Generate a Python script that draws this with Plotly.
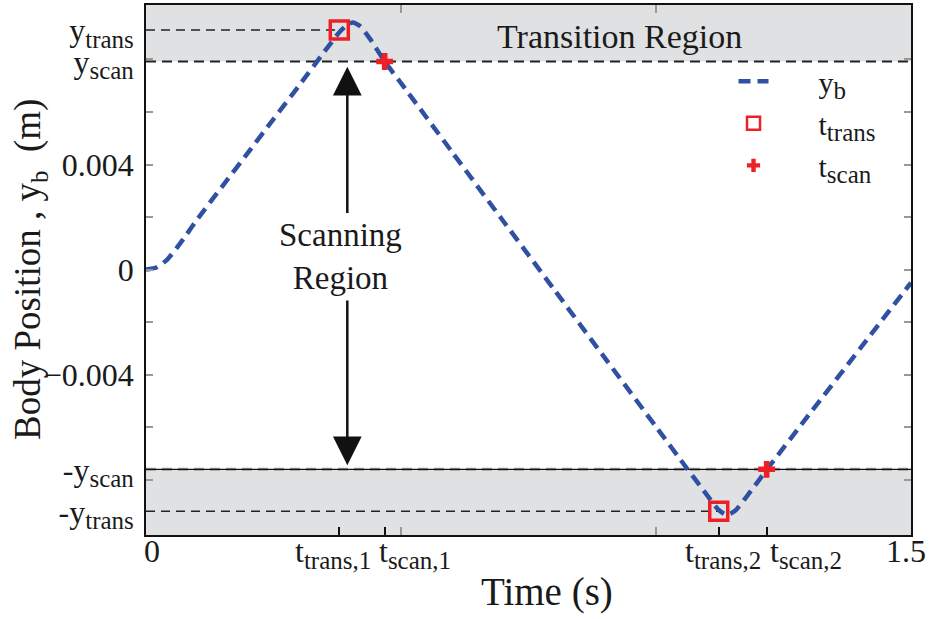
import plotly.graph_objects as go

# ---------------- data ----------------
t_curve = [0.000, 0.020, 0.040, 0.060, 0.080, 0.100, 0.150, 0.200, 0.250, 0.300,
           0.350, 0.380, 0.395, 0.406, 0.420, 0.440, 0.468, 0.500, 0.600, 0.700,
           0.800, 0.900, 1.000, 1.062, 1.100, 1.123, 1.139, 1.155, 1.180, 1.217,
           1.300, 1.400, 1.500]
y_curve = [0.00000, 0.00008, 0.00035, 0.00082, 0.00135, 0.00190, 0.00318, 0.00445, 0.00573, 0.00700,
           0.00830, 0.00905, 0.00932, 0.00940, 0.00926, 0.00876, 0.00792, 0.00710, 0.00448, 0.00186,
           -0.00075, -0.00337, -0.00598, -0.00760, -0.00858, -0.00915, -0.00934, -0.00918, -0.00858, -0.00762,
           -0.00552, -0.00301, -0.00050]

t_trans = [0.379, 1.123]
y_trans_pts = [0.00912, -0.00920]
t_scan = [0.468, 1.217]
y_scan_pts = [0.00792, -0.00760]

Y_TRANS = 0.00912
Y_SCAN = 0.00792
NEG_Y_SCAN = -0.00760
NEG_Y_TRANS = -0.00920

y_range = [-0.0101, 0.01007]
x_range = [0, 1.5]

SUB = "<span style='font-size:25px'>{}</span>"
ytick_vals = [Y_TRANS, Y_SCAN, 0.004, 0.0, -0.004, NEG_Y_SCAN, NEG_Y_TRANS]
ytick_text = ["y<sub>" + SUB.format("trans") + "</sub>", "y<sub>" + SUB.format("scan") + "</sub>",
              "0.004", "0", "\u22120.004",
              "-y<sub>" + SUB.format("scan") + "</sub>", "-y<sub>" + SUB.format("trans") + "</sub>"]
y_minor = [-0.008, -0.006, -0.004, -0.002, 0.0, 0.002, 0.004, 0.006, 0.008]

xtick_vals = [0.0, t_trans[0], t_scan[0], t_trans[1], t_scan[1], 1.5]
xtick_text = ["0", "t<sub>" + SUB.format("trans,1") + "</sub>", "t<sub>" + SUB.format("scan,1") + "</sub>",
              "t<sub>" + SUB.format("trans,2") + "</sub>", "t<sub>" + SUB.format("scan,2") + "</sub>", "1.5"]
xtick_shift = [6, -6, 30, 4, 39, -5]
x_minor = [0.5, 1.0]

arrow_x = 0.3947
arrow_up = [0.0021, 0.00772]
arrow_dn = [-0.00112, -0.00745]

FONT = "Liberation Serif"
BLUE = "#3050A2"
RED = "#EE2026"
SHADE = "#E0E1E3"
TXT = "#1a1a1a"
PAD = "&nbsp;" * 6

fig = go.Figure()

# dashed reference lines
fig.add_trace(go.Scatter(x=[x_range[0], t_trans[0]], y=[Y_TRANS, Y_TRANS], mode="lines",
                         line=dict(color="#222", width=1.5, dash="9px,6px"), showlegend=False, hoverinfo="skip"))
fig.add_trace(go.Scatter(x=x_range, y=[Y_SCAN, Y_SCAN], mode="lines",
                         line=dict(color="#222", width=1.8, dash="10px,6px"), showlegend=False, hoverinfo="skip"))
fig.add_trace(go.Scatter(x=x_range, y=[NEG_Y_SCAN, NEG_Y_SCAN], mode="lines",
                         line=dict(color="#999", width=3, dash="10px,6px"), showlegend=False, hoverinfo="skip"))
fig.add_trace(go.Scatter(x=x_range, y=[NEG_Y_SCAN, NEG_Y_SCAN], mode="lines",
                         line=dict(color="#111", width=1.2), showlegend=False, hoverinfo="skip"))
fig.add_trace(go.Scatter(x=[x_range[0], t_trans[1]], y=[NEG_Y_TRANS, NEG_Y_TRANS], mode="lines",
                         line=dict(color="#222", width=1.5, dash="9px,6px"), showlegend=False, hoverinfo="skip"))

# body position
fig.add_trace(go.Scatter(x=t_curve, y=y_curve, mode="lines", name=PAD + "y<sub>" + SUB.format("b") + "</sub>",
                         line=dict(color=BLUE, width=4.5, dash="12px,7px", shape="spline", smoothing=0.6)))
fig.add_trace(go.Scatter(x=t_trans, y=y_trans_pts, mode="markers", showlegend=False,
                         marker=dict(symbol="square-open", size=18, color=RED, line=dict(width=3.5, color=RED))))
fig.add_trace(go.Scatter(x=t_scan, y=y_scan_pts, mode="markers", showlegend=False,
                         marker=dict(symbol="cross", size=14, color=RED, line=dict(width=0))))
# legend-only entries (smaller symbols, like the reference legend)
fig.add_trace(go.Scatter(x=[None], y=[None], mode="markers", name=PAD + "t<sub>" + SUB.format("trans") + "</sub>",
                         marker=dict(symbol="square-open", size=13, color=RED, line=dict(width=2.5, color=RED))))
fig.add_trace(go.Scatter(x=[None], y=[None], mode="markers", name=PAD + "t<sub>" + SUB.format("scan") + "</sub>",
                         marker=dict(symbol="cross", size=11, color=RED, line=dict(width=0))))

# helper traces for the mirrored axes
fig.add_trace(go.Scatter(x=x_range, y=y_range, mode="markers", marker=dict(opacity=0),
                         xaxis="x2", yaxis="y2", showlegend=False, hoverinfo="skip"))

# shaded regions
fig.add_shape(type="rect", xref="paper", x0=0, x1=1, yref="y", y0=Y_SCAN, y1=y_range[1],
              fillcolor=SHADE, line=dict(width=0), layer="below")
fig.add_shape(type="rect", xref="paper", x0=0, x1=1, yref="y", y0=y_range[0], y1=NEG_Y_SCAN,
              fillcolor=SHADE, line=dict(width=0), layer="below")

# annotations
fig.add_annotation(x=0.929, y=0.00889, text="Transition Region", showarrow=False,
                   font=dict(family=FONT, size=34, color=TXT))
fig.add_annotation(x=0.381, y=0.00051, text="Scanning<br>Region", showarrow=False,
                   font=dict(family=FONT, size=33, color=TXT))
fig.add_annotation(x=arrow_x, y=arrow_up[1], ax=arrow_x, ay=arrow_up[0], xref="x", yref="y",
                   axref="x", ayref="y", text="", showarrow=True, arrowhead=2, arrowsize=2.3,
                   arrowwidth=2.5, arrowcolor="#111")
fig.add_annotation(x=arrow_x, y=arrow_dn[1], ax=arrow_x, ay=arrow_dn[0], xref="x", yref="y",
                   axref="x", ayref="y", text="", showarrow=True, arrowhead=2, arrowsize=2.3,
                   arrowwidth=2.5, arrowcolor="#111")

for v, txt, sh in zip(xtick_vals, xtick_text, xtick_shift):
    fig.add_annotation(x=v, y=0, xref="x", yref="paper", yanchor="top", text=txt,
                       showarrow=False, xshift=sh, yshift=4,
                       font=dict(family=FONT, size=32, color=TXT))

fig.add_annotation(x=0.5, y=0, xref="paper", yref="paper", yanchor="top", text="Time (s)",
                   showarrow=False, xshift=18, yshift=-33, font=dict(family=FONT, size=39, color=TXT))
fig.add_annotation(x=0, y=0.5, xref="paper", yref="paper", xanchor="center", yanchor="middle",
                   text="Body Position , y<sub>" + SUB.format("b") + "</sub>  (m)", textangle=-90,
                   showarrow=False, xshift=-116, font=dict(family=FONT, size=37, color=TXT))

fig.update_layout(
    width=929, height=619,
    margin=dict(l=146, r=18, t=3, b=84),
    paper_bgcolor="white", plot_bgcolor="white",
    font=dict(family=FONT, size=30, color=TXT),
    showlegend=True,
    legend=dict(x=0.768, y=0.905, xanchor="left", yanchor="top", bgcolor="rgba(0,0,0,0)",
                font=dict(family=FONT, size=30, color=TXT), tracegroupgap=0),
    xaxis=dict(range=x_range, tickmode="array", tickvals=xtick_vals, ticktext=[""] * len(xtick_vals),
               ticks="inside", ticklen=8, tickwidth=1.5, tickcolor="#111",
               showgrid=False, zeroline=False, showline=True, linecolor="#111", linewidth=1.5,
               mirror=True,
               minor=dict(tickmode="array", tickvals=x_minor, ticks="inside", ticklen=8,
                          tickcolor="#999", tickwidth=1.5, showgrid=False)),
    xaxis2=dict(range=x_range, overlaying="x", side="top", tickmode="array", tickvals=x_minor,
                showticklabels=False, ticks="inside", ticklen=8, tickcolor="#999", tickwidth=1.5,
                showgrid=False, zeroline=False, showline=False),
    yaxis=dict(range=y_range, tickmode="array", tickvals=ytick_vals, ticktext=ytick_text,
               ticks="", showgrid=False, zeroline=False, showline=True, linecolor="#111",
               linewidth=1.5, mirror=True, ticklabelstandoff=4,
               tickfont=dict(family=FONT, size=32, color=TXT),
               minor=dict(tickmode="array", tickvals=y_minor, ticks="inside", ticklen=7,
                          tickcolor="#999", tickwidth=1.5, showgrid=False)),
    yaxis2=dict(range=y_range, overlaying="y", side="right", tickmode="array", tickvals=y_minor,
                showticklabels=False, ticks="inside", ticklen=7, tickcolor="#999", tickwidth=1.5,
                showgrid=False, zeroline=False, showline=False),
)

fig.write_html("out.html")
